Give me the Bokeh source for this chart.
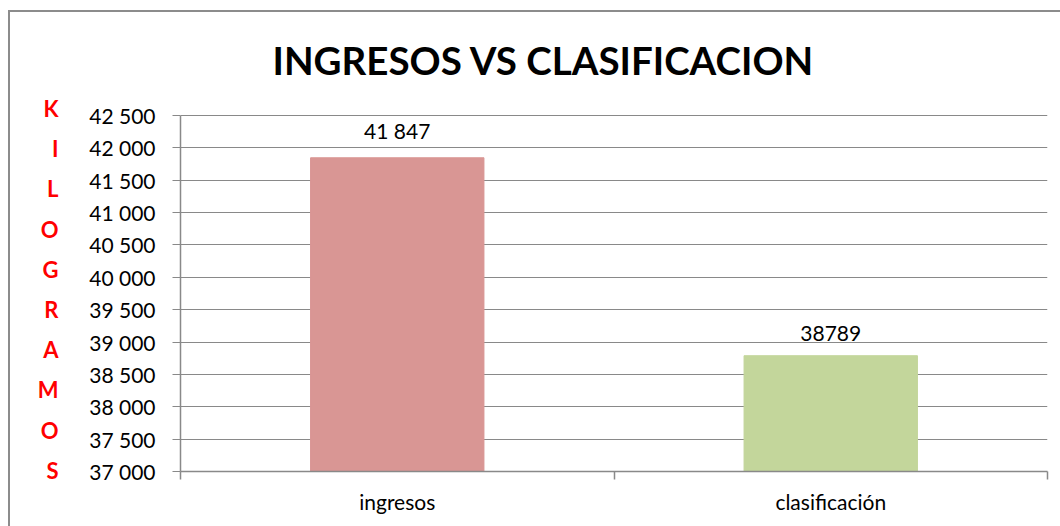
from bokeh.plotting import figure
from bokeh.models import FixedTicker, Range1d, ColumnDataSource, LinearAxis, Title
from bokeh.core.properties import value
from bokeh.embed import file_html
from bokeh.resources import INLINE

categories = ["ingresos", "clasificación"]
values = [41847, 38789]
value_labels = ["41 847", "38789"]
bar_colors = ["#D99694", "#C3D69B"]
y_ticks = [37000, 37500, 38000, 38500, 39000, 39500, 40000, 40500, 41000, 41500, 42000, 42500]
y_tick_labels = ["37 000", "37 500", "38 000", "38 500", "39 000", "39 500",
                 "40 000", "40 500", "41 000", "41 500", "42 000", "42 500"]
title_text = "INGRESOS VS CLASIFICACION"
y_title = "KILOGRAMOS"

FONT = "Lato"
GRID = "#898989"

xs = [i + 0.5 for i in range(len(categories))]
src = ColumnDataSource(dict(x=xs, top=values, color=bar_colors, lab=value_labels))

p = figure(width=1060, height=526, output_backend="svg", toolbar_location=None,
           x_range=Range1d(0, len(categories)), y_range=Range1d(y_ticks[0], 42732),
           min_border_left=180, min_border_right=13, min_border_top=100, min_border_bottom=55)
p.outline_line_color = None
p.background_fill_color = "white"
p.border_fill_color = None
p.styles = {"box-shadow": "inset 8px 10px 0 0 white, inset 10px 12px 0 0 #8c8c8c"}

p.vbar(x="x", top="top", bottom=y_ticks[0], width=0.4, color="color", source=src)
p.text(x="x", y="top", text="lab", source=src, text_align="center", text_baseline="bottom",
       y_offset=-15, text_font=value(FONT), text_font_size="21px", text_color="black")

# y axis
p.yaxis.bounds = (y_ticks[0], y_ticks[-1])
p.yaxis.ticker = FixedTicker(ticks=y_ticks)
p.yaxis.major_label_overrides = {t: l for t, l in zip(y_ticks, y_tick_labels)}
p.yaxis.major_label_text_font = FONT
p.yaxis.major_label_text_font_size = "21px"
p.yaxis.major_label_text_color = "black"
p.yaxis.major_label_standoff = 17
p.yaxis.major_tick_out = 8
p.yaxis.major_tick_in = 0
p.yaxis.minor_tick_out = 0
p.yaxis.minor_tick_in = 0
p.yaxis.axis_line_color = GRID
p.yaxis.major_tick_line_color = GRID
p.yaxis.axis_line_width = 1.5
p.ygrid.grid_line_color = GRID
p.ygrid.grid_line_width = 1.2
p.ygrid.ticker = FixedTicker(ticks=y_ticks)

# stacked letters of the y title as an extra axis
letter_idx = list(range(len(y_title)))
p.extra_y_ranges = {"letters": Range1d(start=9.03, end=-0.2)}
la = LinearAxis(y_range_name="letters", ticker=FixedTicker(ticks=letter_idx))
la.major_label_overrides = {i: ch for i, ch in zip(letter_idx, y_title)}
la.major_label_text_font = FONT
la.major_label_text_font_style = "bold"
la.major_label_text_font_size = "22px"
la.major_label_text_color = "#FF0000"
la.major_label_standoff = 22
la.axis_line_color = None
la.major_tick_line_color = None
la.minor_tick_line_color = None
p.add_layout(la, "left")

# x axis
p.xaxis.ticker = FixedTicker(ticks=xs, minor_ticks=list(range(len(categories) + 1)))
p.xaxis.major_label_overrides = {x: c for x, c in zip(xs, categories)}
p.xaxis.major_label_text_font = FONT
p.xaxis.major_label_text_font_size = "21px"
p.xaxis.major_label_text_color = "black"
p.xaxis.major_label_standoff = 9
p.xaxis.major_tick_out = 0
p.xaxis.major_tick_in = 0
p.xaxis.minor_tick_out = 8
p.xaxis.minor_tick_in = 0
p.xaxis.minor_tick_line_color = GRID
p.xaxis.minor_tick_line_width = 1.5
p.xaxis.axis_line_color = GRID
p.xaxis.axis_line_width = 1.5
p.xgrid.grid_line_color = None

# title
p.title = Title(text=title_text, align="left", offset=92, text_font=FONT,
                text_font_style="bold", text_font_size="38.5px", text_color="black", standoff=36)

open("out.html", "w").write(file_html(p, INLINE))
